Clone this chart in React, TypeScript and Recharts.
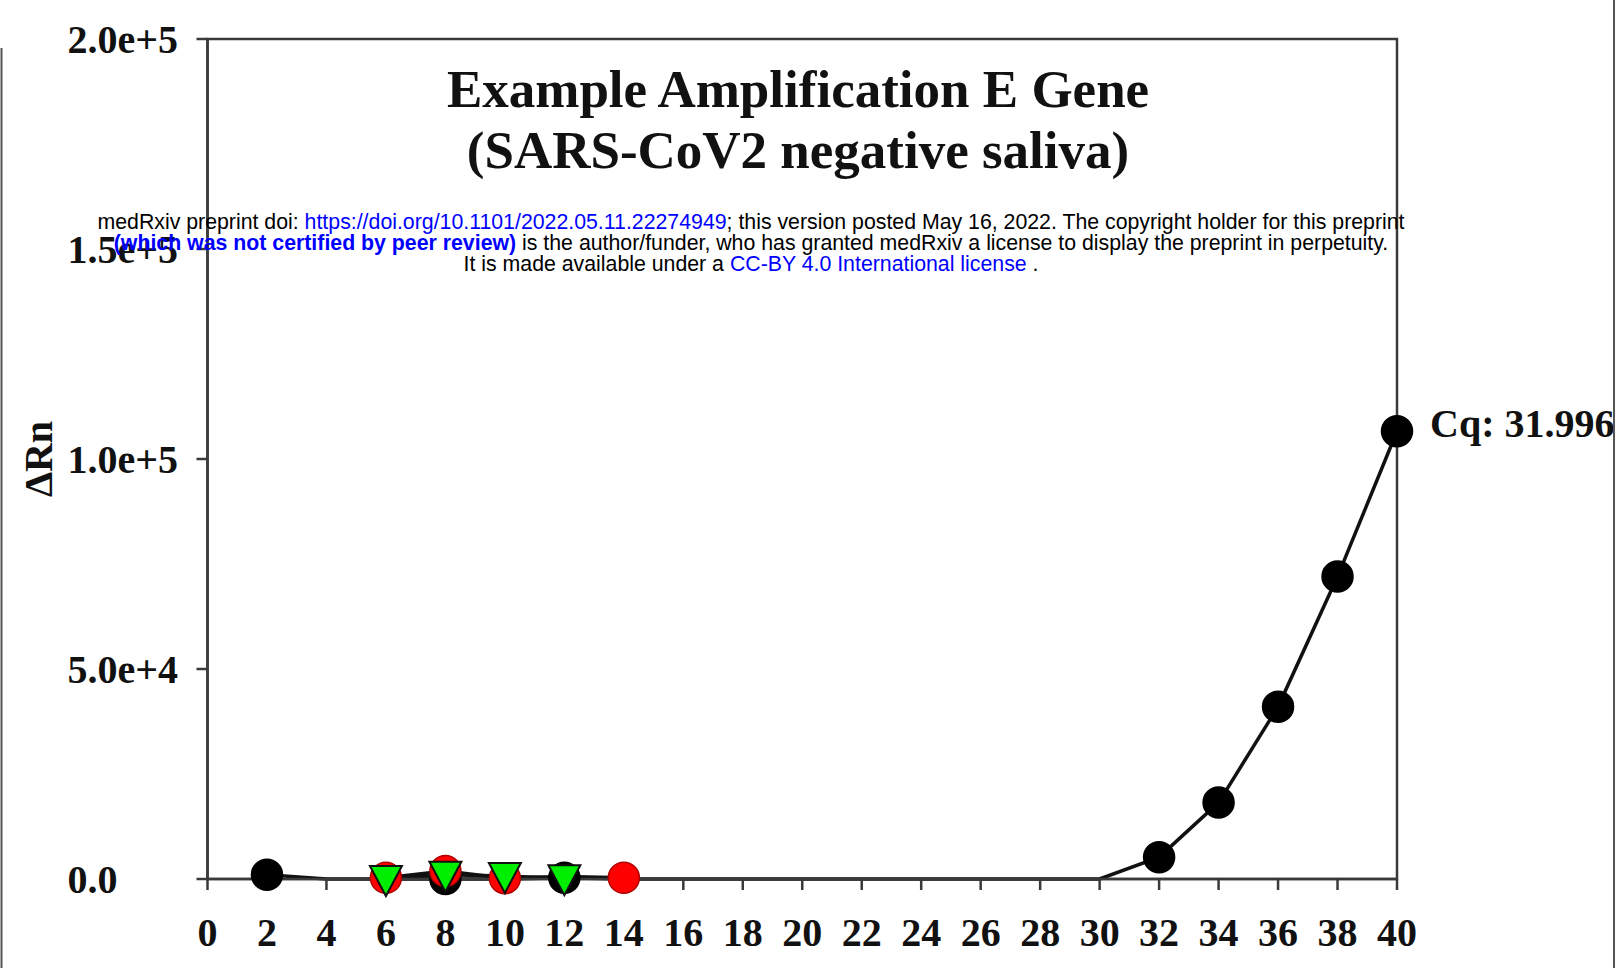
import React from 'react';
import { ComposedChart, Line, XAxis, YAxis, ReferenceArea } from 'recharts';

// cycle numbers (x) and the three traces (ΔRn)
const cycles = [2, 4, 6, 8, 10, 12, 14, 16, 18, 20, 22, 24, 26, 28, 30, 32, 34, 36, 38, 40];
const sampleA = [1000, 0, 0, 0, 0, 300, 0, 0, 0, 0, 0, 0, 0, 0, 0, 5200, 18200, 41000, 72000, 106600];
const sampleB = [null, null, 300, 1900, 200, 600, 300, null, null, null, null, null, null, null, null, null, null, null, null, null];
const sampleC = [null, null, 0, 1000, 700, 200, null, null, null, null, null, null, null, null, null, null, null, null, null, null];

// cycles where each trace shows a marker
const markersA = [2, 8, 12, 32, 34, 36, 38, 40];
const markersB = [6, 8, 10, 14];
const markersC = [6, 8, 10, 12];

const xTicks = [0, 2, 4, 6, 8, 10, 12, 14, 16, 18, 20, 22, 24, 26, 28, 30, 32, 34, 36, 38, 40];
const yTicks = [0, 50000, 100000, 150000, 200000];
const yTickLabels = ['0.0', '5.0e+4', '1.0e+5', '1.5e+5', '2.0e+5'];

const cqLabel = 'Cq: 31.996';

const data = cycles.map((c, i) => ({ cycle: c, a: sampleA[i], b: sampleB[i], c: sampleC[i] }));

const serif = '"Liberation Serif", "Times New Roman", serif';
const sans = '"Liberation Sans", Arial, sans-serif';
const axisColor = '#3a3a3a';
const tickStyle = { fontFamily: serif, fontWeight: 'bold', fontSize: 40, fill: '#111' };

const circleDot = (marks: number[], fill: string, stroke: string) => (props: any) => {
    const { cx, cy, payload, index } = props;
    if (!marks.includes(payload.cycle) || cx == null || cy == null) return <g key={`e${index}`} />;
    return <circle key={`d${index}`} cx={cx} cy={cy} r={15.5} fill={fill} stroke={stroke} strokeWidth={1.5} />;
};

const triangleDot = (marks: number[]) => (props: any) => {
    const { cx, cy, payload, index } = props;
    if (!marks.includes(payload.cycle) || cx == null || cy == null) return <g key={`e${index}`} />;
    const pts = `${cx - 16},${cy - 13} ${cx + 16},${cy - 13} ${cx},${cy + 17}`;
    return <polygon key={`t${index}`} points={pts} fill="#00ee00" stroke="#111" strokeWidth={2} />;
};

// y tick labels are left-aligned in the original
const YTick = (props: any) => {
    const { x, y, payload } = props;
    return (
        <text x={x} y={y} dy="0.355em" textAnchor="start" {...tickStyle}>
            {yTickLabels[yTicks.indexOf(payload.value)]}
        </text>
    );
};

const lastLabel = (props: any) => {
    const { x, y, index } = props;
    if (index !== cycles.length - 1) return <g key={`l${index}`} />;
    return (
        <text key={`l${index}`} x={x + 33} y={y + 6} fontFamily={serif} fontWeight="bold" fontSize={40} fill="#111">
            {cqLabel}
        </text>
    );
};

export default function App() {
    return (
        <div style={{ position: 'absolute', left: 0, top: 0, width: 1616, height: 968, background: '#fff', overflow: 'hidden' }}>
            <ComposedChart width={1616} height={968} data={data} margin={{ top: 39, right: 219, left: 0, bottom: 29 }}>
                <XAxis
                    dataKey="cycle"
                    type="number"
                    domain={[0, 40]}
                    ticks={xTicks}
                    height={60}
                    stroke={axisColor}
                    strokeWidth={2.5}
                    tickSize={11}
                    tickMargin={28}
                    tick={tickStyle}
                    interval={0}
                />
                <YAxis
                    type="number"
                    domain={[0, 200000]}
                    ticks={yTicks}
                    width={207.5}
                    stroke={axisColor}
                    strokeWidth={2.5}
                    tickSize={11}
                    tickMargin={129}
                    tick={<YTick />}
                    label={{
                        value: 'ΔRn',
                        angle: -90,
                        position: 'insideLeft',
                        offset: 38,
                        style: { textAnchor: 'middle', fontFamily: serif, fontWeight: 'bold', fontSize: 40, fill: '#111' },
                    }}
                />
                <ReferenceArea x1={0} x2={40} y1={0} y2={200000} fill="none" stroke={axisColor} strokeWidth={2.5} />
                <Line
                    dataKey="a"
                    type="linear"
                    stroke="#111"
                    strokeWidth={3.5}
                    dot={circleDot(markersA, '#000', '#000')}
                    label={lastLabel}
                    isAnimationActive={false}
                />
                <Line
                    dataKey="b"
                    type="linear"
                    stroke="#111"
                    strokeWidth={3.5}
                    dot={circleDot(markersB, '#ff0000', '#b00000')}
                    isAnimationActive={false}
                />
                <Line
                    dataKey="c"
                    type="linear"
                    stroke="#111"
                    strokeWidth={3.5}
                    dot={triangleDot(markersC)}
                    isAnimationActive={false}
                />
            </ComposedChart>

            <svg width={1616} height={968} style={{ position: 'absolute', left: 0, top: 0, pointerEvents: 'none' }}>
                <text x={798} y={107} textAnchor="middle" fontFamily={serif} fontWeight="bold" fontSize={53} fill="#111">
                    Example Amplification E Gene
                </text>
                <text x={798} y={168} textAnchor="middle" fontFamily={serif} fontWeight="bold" fontSize={53} fill="#111">
                    (SARS-CoV2 negative saliva)
                </text>
                <g fontFamily={sans} fontSize={21.3} textAnchor="middle">
                    <text x={751} y={229} fill="#000">
                        medRxiv preprint doi: <tspan fill="#0000ff">https://doi.org/10.1101/2022.05.11.22274949</tspan>; this version posted May 16, 2022. The copyright holder for this preprint
                    </text>
                    <text x={751} y={250} fill="#000">
                        <tspan fill="#0000ff" fontWeight="bold">(which was not certified by peer review)</tspan> is the author/funder, who has granted medRxiv a license to display the preprint in perpetuity.
                    </text>
                    <text x={751} y={271} fill="#000">
                        It is made available under a <tspan fill="#0000ff">CC-BY 4.0 International license</tspan> .
                    </text>
                </g>
                <line x1={1.5} y1={48} x2={1.5} y2={968} stroke="#555" strokeWidth={2} />
                <line x1={1614} y1={0} x2={1614} y2={968} stroke="#555" strokeWidth={2} />
            </svg>
        </div>
    );
}
